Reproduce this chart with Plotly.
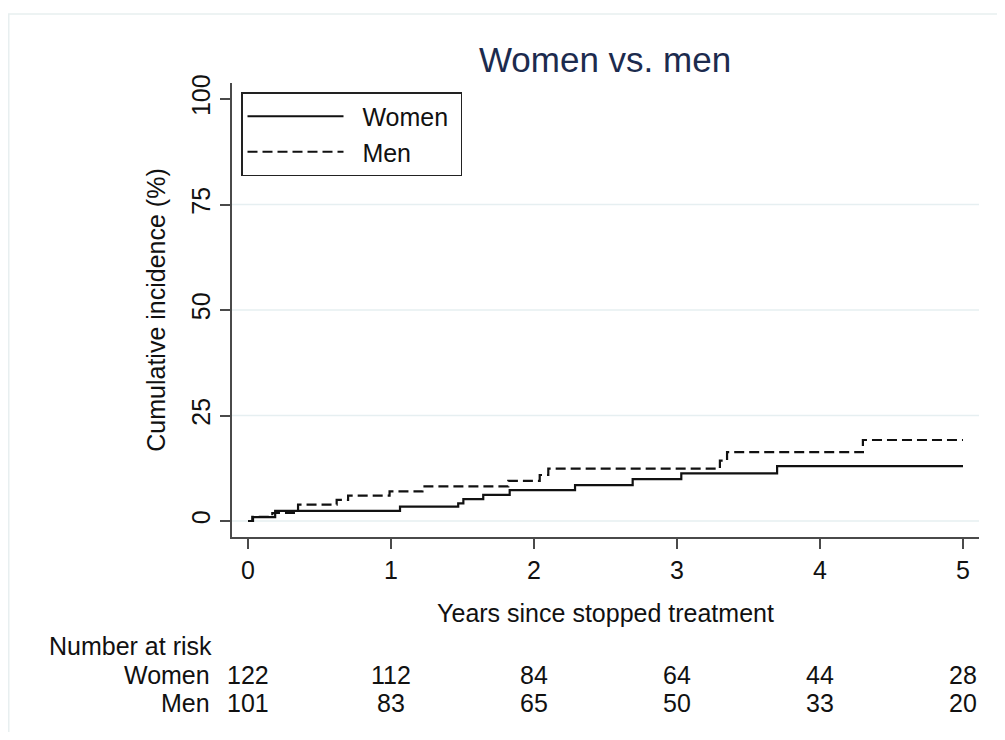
import plotly.graph_objects as go

# Data
women_t = [0, 0.035, 0.19, 1.063, 1.47, 1.506, 1.645, 1.83, 2.287, 2.69, 3.03, 3.70, 5.0]
women_ci = [0, 0.9, 2.4, 3.4, 4.2, 5.2, 6.2, 7.3, 8.5, 9.9, 11.3, 13.0, 13.0]

men_t = [0, 0.03, 0.17, 0.35, 0.62, 0.70, 0.99, 1.22, 1.82, 2.04, 2.10, 3.30, 3.35, 4.30, 5.0]
men_ci = [0, 1.0, 1.9, 3.9, 5.0, 6.0, 7.0, 8.2, 9.5, 10.9, 12.4, 14.3, 16.3, 19.2, 19.2]

risk_times = [0, 1, 2, 3, 4, 5]
risk_women = [122, 112, 84, 64, 44, 28]
risk_men = [101, 83, 65, 50, 33, 20]

x_ticks = [0, 1, 2, 3, 4, 5]
y_ticks = [0, 25, 50, 75, 100]
grid_vals = [0, 25, 50, 75]

FONT = "Liberation Sans, Arial, sans-serif"
FS = 25
OFF = 8  # page body margin
W, H = 989, 724
# plot area in page pixels: x 232..979, y 83..537
L, T = 232 - OFF, 83 - OFF
R = W - (979 - OFF)
B = H - (537 - OFF)
plot_w = W - L - R
plot_h = H - T - B

# axis calibration (page pixels): x=0 at 248, 143 px/year; y=0 at 521, y=100 at 99
x0_px, x_scale = 248, 143.0
y0_px, y_scale = 521, (521 - 99) / 100.0


def px_x(p):
    return (p - OFF - L) / plot_w


def px_y(p):
    return (H - B - (p - OFF)) / plot_h


fig = go.Figure()
fig.add_trace(go.Scatter(x=women_t, y=women_ci, mode="lines", name="\u00a0\u00a0Women\u00a0",
                         line=dict(shape="hv", color="#111111", width=2.2)))
fig.add_trace(go.Scatter(x=men_t, y=men_ci, mode="lines", name="\u00a0\u00a0Men",
                         line=dict(shape="hv", color="#111111", width=2.2, dash="10px,5px")))

shapes = []
for g in grid_vals:
    shapes.append(dict(type="line", xref="paper", yref="y", x0=0, x1=1, y0=g, y1=g,
                       line=dict(color="#e6eff1", width=1.5), layer="below"))
# outer light frame
shapes.append(dict(type="rect", xref="paper", yref="paper",
                   x0=px_x(8.75), x1=px_x(1030), y0=px_y(780), y1=px_y(14),
                   line=dict(color="#e8eff0", width=1.5), fillcolor="rgba(0,0,0,0)", layer="below"))

tfont = dict(family=FONT, size=FS, color="#111111")
annotations = [dict(text="Number at risk", xref="paper", yref="paper",
                    x=px_x(47), y=px_y(646), xanchor="left", yanchor="middle",
                    showarrow=False, font=tfont)]
for label, vals, ypx in [("Women", risk_women, 675), ("Men", risk_men, 703)]:
    annotations.append(dict(text=label, xref="paper", yref="paper",
                            x=px_x(212), y=px_y(ypx), xanchor="right", yanchor="middle",
                            showarrow=False, font=tfont))
    for t, v in zip(risk_times, vals):
        annotations.append(dict(text=str(v), xref="x", yref="paper", x=t, y=px_y(ypx),
                                xanchor="center", yanchor="middle", showarrow=False, font=tfont))

fig.update_layout(
    width=W, height=H,
    margin=dict(l=L, r=R, t=T, b=B),
    paper_bgcolor="white", plot_bgcolor="white",
    font=tfont,
    title=dict(text="Women vs. men", x=(605 - OFF) / W, xanchor="center", xref="container",
               y=1 - (60 - OFF) / H, yanchor="middle", yref="container",
               font=dict(family=FONT, size=35, color="#1c2b4e")),
    xaxis=dict(range=[(232 - x0_px) / x_scale, (979 - x0_px) / x_scale],
               tickvals=x_ticks, ticks="outside", ticklen=10, tickwidth=1.5, tickcolor="#4a4a4a",
               showline=True, linecolor="#4a4a4a", linewidth=1.5, showgrid=False, zeroline=False,
               tickfont=tfont,
               title=dict(text="Years since stopped treatment", standoff=22, font=tfont)),
    yaxis=dict(range=[(y0_px - 537) / y_scale, (y0_px - 83) / y_scale],
               tickvals=y_ticks, ticks="outside", ticklen=10, tickwidth=1.5, tickcolor="#4a4a4a",
               tickangle=-90,
               showline=True, linecolor="#4a4a4a", linewidth=1.5, showgrid=False, zeroline=False,
               tickfont=tfont,
               title=dict(text="Cumulative incidence (%)", standoff=15, font=tfont)),
    legend=dict(x=px_x(241), y=px_y(92), xanchor="left", yanchor="top",
                bordercolor="#222222", borderwidth=1.5, bgcolor="white",
                font=tfont, itemwidth=96, tracegroupgap=0),
    shapes=shapes,
    annotations=annotations,
    showlegend=True,
)

fig.write_html("out.html")
